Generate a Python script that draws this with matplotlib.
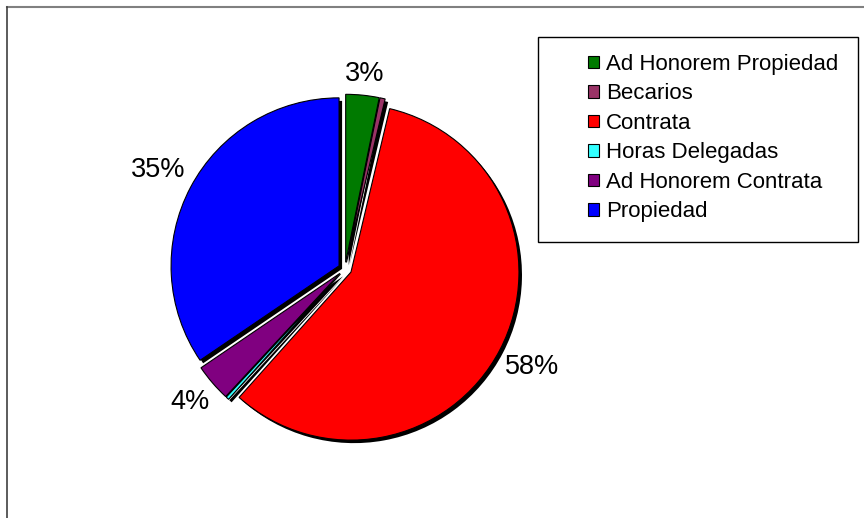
import matplotlib
matplotlib.use("Agg")
import numpy as np
import matplotlib.pyplot as plt
from matplotlib.lines import Line2D
from matplotlib.patches import Rectangle

plt.rcParams['font.family'] = ['Liberation Sans', 'DejaVu Sans']

categories = ["Ad Honorem Propiedad", "Becarios", "Contrata", "Horas Delegadas",
              "Ad Honorem Contrata", "Propiedad"]
values = [3.2, 0.5, 57.9, 0.3, 3.6, 34.5]
colors = ["#007A00", "#993366", "#FF0000", "#33FFFF", "#800080", "#0000FF"]
pct_labels = ["3%", "", "58%", "", "4%", "35%"]

W, H = 864, 518
fig = plt.figure(figsize=(W / 100, H / 100), dpi=100)

# pie axes: centre (345,269) px, radius 168 px, limits +-1.3
cx, cy, R = 345, 269, 168
L = 1.3
half = L * R
ax = fig.add_axes([(cx - half) / W, (H - cy - half) / H, 2 * half / W, 2 * half / H])

explode = [0.04] * len(values)
# shadow
ax.pie(values, colors=['black'] * len(values), startangle=90, counterclock=False,
       explode=explode, center=(0.018, -0.018), radius=1.0,
       wedgeprops=dict(linewidth=0))
wedges, texts = ax.pie(values, colors=colors, startangle=90, counterclock=False,
                       explode=explode, labels=pct_labels, labeldistance=1.1,
                       radius=1.0, wedgeprops=dict(edgecolor='black', linewidth=0.8),
                       textprops=dict(fontsize=19.5, color='black'))
ax.set_xlim(-L, L)
ax.set_ylim(-L, L)
ax.set_aspect('equal')
ax.axis('off')

# place labels so that their nearest edge sits at a fixed gap outside the pie
fig.canvas.draw()
renderer = fig.canvas.get_renderer()
for w, t in zip(wedges, texts):
    if not t.get_text():
        continue
    ang = np.deg2rad((w.theta1 + w.theta2) / 2)
    d = np.array([np.cos(ang), np.sin(ang)])
    t.set_ha('center')
    t.set_va('center')
    bb = t.get_window_extent(renderer)
    hw, hh = bb.width / 2 / R, bb.height / 2 / R
    ext = abs(d[0]) * hw + abs(d[1]) * hh
    dist = 1.08 + ext
    t.set_position(tuple(d * dist))

# outer frame (top and left visible)
fig.add_artist(Line2D([7 / W, 1], [1 - 7 / H, 1 - 7 / H], transform=fig.transFigure,
                      color='#808080', linewidth=1.5))
fig.add_artist(Line2D([7 / W, 7 / W], [0, 1 - 7 / H], transform=fig.transFigure,
                      color='#404040', linewidth=1.2))

# legend frame
lx0, ly0, lx1, ly1 = 538, 37, 858, 242
fig.add_artist(Rectangle((lx0 / W, 1 - ly1 / H), (lx1 - lx0) / W, (ly1 - ly0) / H,
                         transform=fig.transFigure, facecolor='white',
                         edgecolor='black', linewidth=1.0, zorder=5))
leg = fig.legend(wedges, categories, loc='upper left',
                 bbox_to_anchor=(588 / W, 1 - 54 / H), frameon=False,
                 fontsize=16, borderpad=0, borderaxespad=0,
                 labelspacing=0.38, handlelength=0.5, handleheight=0.5,
                 handletextpad=0.3)
leg.set_zorder(6)
for h in leg.legend_handles:
    h.set_edgecolor('black')
    h.set_linewidth(0.8)

fig.savefig('out.png', dpi=100)
